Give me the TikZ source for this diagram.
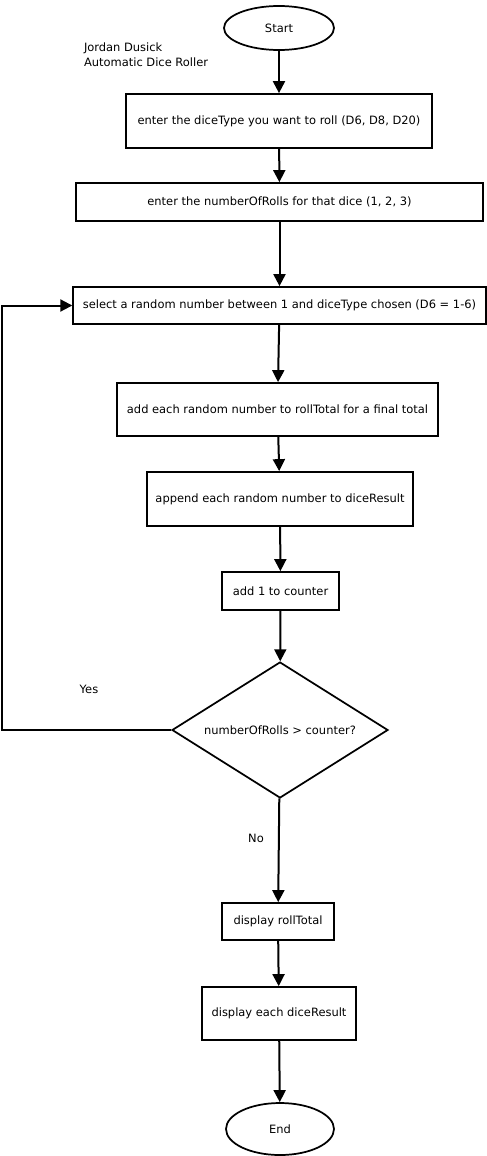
\documentclass[tikz,border=0pt]{standalone}
\usepackage{fontspec}
\setmainfont{DejaVu Sans}
\usetikzlibrary{shapes.geometric,arrows.meta}
\begin{document}
\begin{tikzpicture}[x=0.75pt,y=-0.75pt,line width=1.5pt,font=\fontsize{8.6}{11}\selectfont,
  >={Triangle[length=9pt,width=9pt]}]
    \tikzstyle{process}=[draw,rectangle,line width=1.3pt,inner sep=0pt]
    \tikzstyle{terminal}=[draw,ellipse,line width=1.3pt,inner sep=0pt]
    \tikzstyle{decision}=[draw,diamond,line width=1.3pt,inner sep=0pt,aspect=1.59]
    \useasboundingbox (0,0) rectangle (486,1156);

    \node[terminal,minimum width=82.5pt,minimum height=33pt](start) at (279,28){Start};
    \node[align=left,anchor=west,inner sep=0pt](author) at (83,55){Jordan Dusick\\Automatic Dice Roller};

    \node[process,minimum width=229.5pt,minimum height=40.5pt](type) at (279,121){enter the diceType you want to roll (D6, D8, D20)};
    \node[process,minimum width=305pt,minimum height=28.5pt](rolls) at (279.5,202){enter the numberOfRolls for that dice (1, 2, 3)};
    \node[process,minimum width=309.5pt,minimum height=27.75pt](select) at (279.5,305.5){select a random number between 1 and diceType chosen (D6 = 1-6)};
    \node[process,minimum width=240.75pt,minimum height=39.75pt](add) at (277.5,409.5){add each random number to rollTotal for a final total};
    \node[process,minimum width=199.5pt,minimum height=40.5pt](append) at (280,499){append each random number to diceResult};
    \node[process,minimum width=87.75pt,minimum height=28.5pt](counter) at (280.5,591){add 1 to counter};
    \node[decision,minimum width=162pt,minimum height=102pt](check) at (280,730){numberOfRolls > counter?};
    \node[process,minimum width=84pt,minimum height=27.75pt](total) at (278,921.5){display rollTotal};
    \node[process,minimum width=115.5pt,minimum height=39.75pt](result) at (279,1013.5){display each diceResult};
    \node[terminal,minimum width=81pt,minimum height=39pt](end) at (280,1129){End};

    \coordinate(loopb) at (2,730);
    \coordinate(loopt) at (2,305.5);

    \draw[->] (start) -- (type);
    \draw[->] (type) -- (rolls);
    \draw[->] (rolls) -- (select);
    \draw[->] (select) -- (add);
    \draw[->] (add) -- (append);
    \draw[->] (append) -- (counter);
    \draw[->] (counter) -- (check);
    \draw[->] (check) -- (loopb) -- (loopt) -- (select);
    \draw[->] (check) -- (total);
    \draw[->] (total) -- (result);
    \draw[->] (result) -- (end);

    \node(yes) at (89,689){Yes};
    \node(no) at (256,838){No};
  \end{tikzpicture}
\end{document}
